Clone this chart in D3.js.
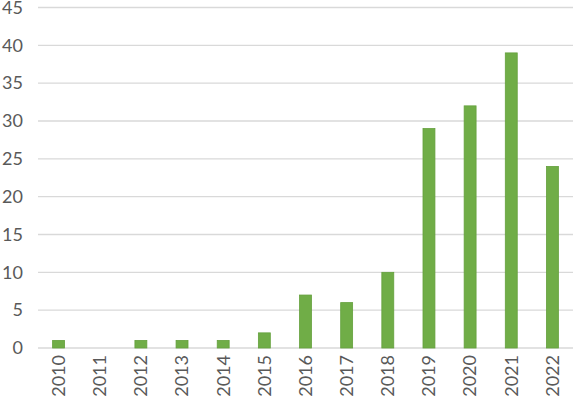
<!DOCTYPE html>
<html>
<head>
<meta charset="utf-8">
<script src="https://cdn.jsdelivr.net/npm/d3@7"></script>
<style>
  body { margin: 0; background: #fff; }
  text { font-family: Lato, "Open Sans", sans-serif; fill: #595959; }
</style>
</head>
<body>
<div id="chart"></div>
<script>
var years = ["2010","2011","2012","2013","2014","2015","2016","2017","2018","2019","2020","2021","2022"];
var counts = [1, 0, 1, 1, 1, 2, 7, 6, 10, 29, 32, 39, 24];
var yTicks = [0, 5, 10, 15, 20, 25, 30, 35, 40, 45];

var width = 575, height = 399;
var plotLeft = 38, plotRight = 573, plotTop = 7.5, plotBottom = 348;

var data = years.map(function (y, i) { return { year: y, count: counts[i] }; });

var svg = d3.select("#chart").append("svg")
    .attr("width", width)
    .attr("height", height);

var x = d3.scaleBand()
    .domain(years)
    .range([plotLeft, plotRight])
    .paddingInner(0.71)
    .paddingOuter(0.355);

var y = d3.scaleLinear()
    .domain([0, 45])
    .range([plotBottom, plotTop]);

// gridlines
svg.append("g")
  .selectAll("line")
  .data(yTicks)
  .enter()
  .append("line")
    .attr("x1", plotLeft)
    .attr("x2", plotRight)
    .attr("y1", function (d) { return y(d); })
    .attr("y2", function (d) { return y(d); })
    .attr("stroke", "#d9d9d9")
    .attr("stroke-width", 1.3);

// y tick labels
svg.append("g")
  .selectAll("text")
  .data(yTicks)
  .enter()
  .append("text")
    .attr("x", 23)
    .attr("y", function (d) { return y(d); })
    .attr("dy", "0.35em")
    .attr("text-anchor", "end")
    .style("font-size", "18px")
    .text(function (d) { return d; });

// bars
svg.append("g")
  .selectAll("rect")
  .data(data.filter(function (d) { return d.count > 0; }))
  .enter()
  .append("rect")
    .attr("x", function (d) { return x(d.year); })
    .attr("y", function (d) { return y(d.count); })
    .attr("width", x.bandwidth())
    .attr("height", function (d) { return y(0) - y(d.count); })
    .attr("fill", "#70ad47")
    .attr("stroke", "#64a03c")
    .attr("stroke-width", 0.8);

// x labels, rotated
svg.append("g")
  .selectAll("text")
  .data(years)
  .enter()
  .append("text")
    .attr("transform", function (d) {
      return "translate(" + (x(d) + x.bandwidth() / 2) + ",355) rotate(-90)";
    })
    .attr("dy", "0.35em")
    .attr("text-anchor", "end")
    .style("font-size", "18px")
    .text(function (d) { return d; });
</script>
</body>
</html>
